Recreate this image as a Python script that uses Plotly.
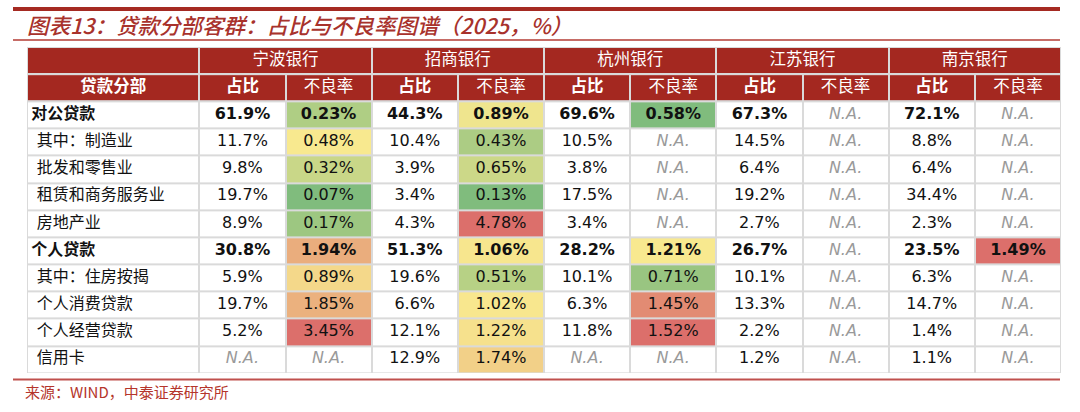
import plotly.graph_objects as go

W, H = 1080, 412

title_text = "图表13：贷款分部客群：占比与不良率图谱（2025，%）"
source_text = "来源：WIND，中泰证券研究所"

banks = ["宁波银行", "招商银行", "杭州银行", "江苏银行", "南京银行"]
row_header = "贷款分部"
sub_headers = ["占比", "不良率"]

categories = ["对公贷款", "其中：制造业", "批发和零售业", "租赁和商务服务业", "房地产业",
              "个人贷款", "其中：住房按揭", "个人消费贷款", "个人经营贷款", "信用卡"]
total_rows = ["对公贷款", "个人贷款"]

# 占比 (%), None = N.A.
share_ningbo = [61.9, 11.7, 9.8, 19.7, 8.9, 30.8, 5.9, 19.7, 5.2, None]
share_zhaoshang = [44.3, 10.4, 3.9, 3.4, 4.3, 51.3, 19.6, 6.6, 12.1, 12.9]
share_hangzhou = [69.6, 10.5, 3.8, 17.5, 3.4, 28.2, 10.1, 6.3, 11.8, None]
share_jiangsu = [67.3, 14.5, 6.4, 19.2, 2.7, 26.7, 10.1, 13.3, 2.2, 1.2]
share_nanjing = [72.1, 8.8, 6.4, 34.4, 2.3, 23.5, 6.3, 14.7, 1.4, 1.1]

# 不良率 (%)
npl_ningbo = [0.23, 0.48, 0.32, 0.07, 0.17, 1.94, 0.89, 1.85, 3.45, None]
npl_zhaoshang = [0.89, 0.43, 0.65, 0.13, 4.78, 1.06, 0.51, 1.02, 1.22, 1.74]
npl_hangzhou = [0.58, None, None, None, None, 1.21, 0.71, 1.45, 1.52, None]
npl_jiangsu = [None] * 10
npl_nanjing = [None, None, None, None, None, 1.49, None, None, None, None]

shares = [share_ningbo, share_zhaoshang, share_hangzhou, share_jiangsu, share_nanjing]
npls = [npl_ningbo, npl_zhaoshang, npl_hangzhou, npl_jiangsu, npl_nanjing]

RED = "#a42820"
GRID = "#dadada"
CJK = "Noto Sans CJK SC"
NUM = "DejaVu Sans"
# z < 0 -> white cell; 0..1 -> green / yellow (column median) / red
BODY_SCALE = [[0.0, "#ffffff"], [0.4999, "#ffffff"],
              [0.5, "#80bc7d"], [0.75, "#f8e98f"], [1.0, "#dc6f6b"]]

# table geometry in "column units" / "row units"
col_edges = [0, 2] + [2 + i for i in range(1, 2 * len(banks) + 1)]
bank_edges = [0] + [2 + 2 * i for i in range(len(banks) + 1)]
n_rows = len(categories) + 2
row_edges = list(range(n_rows + 1))


def px_x(v):
    return v / W


def px_y(v):
    return 1 - v / H


def heat_pos(vals):
    # 3-colour conditional format per column: min green, median yellow, max red
    nums = sorted(v for v in vals if v is not None)
    if not nums:
        return [-1] * len(vals)
    lo, hi = nums[0], nums[-1]
    n = len(nums)
    med = nums[n // 2] if n % 2 else (nums[n // 2 - 1] + nums[n // 2]) / 2
    out = []
    for v in vals:
        if v is None:
            out.append(-1)
        elif n == 1:
            out.append(1.0)
        elif v <= med:
            out.append(0.5 * (v - lo) / (med - lo) if med > lo else 0.5)
        else:
            out.append(0.5 + 0.5 * (v - med) / (hi - med))
    return out


# body fill matrix (rows x columns)
columns_z = [[-1] * len(categories)]
for n in npls:
    columns_z += [[-1] * len(categories), heat_pos(n)]
z_body = [[col[r] for col in columns_z] for r in range(len(categories))]

fig = go.Figure()

# merged bank-name header row
fig.add_trace(go.Heatmap(
    x=bank_edges, y=row_edges[0:2], z=[[0] * (len(banks) + 1)],
    colorscale=[[0, RED], [1, RED]], showscale=False, xgap=2, ygap=2,
    hoverinfo="skip",
))
# sub-header row
fig.add_trace(go.Heatmap(
    x=col_edges, y=row_edges[1:3], z=[[0] * (2 * len(banks) + 1)],
    colorscale=[[0, RED], [1, RED]], showscale=False, xgap=2, ygap=2,
    hoverinfo="skip",
))
# body
fig.add_trace(go.Heatmap(
    x=col_edges, y=row_edges[2:], z=z_body,
    colorscale=BODY_SCALE, zmin=-1, zmax=1, showscale=False, xgap=2, ygap=2,
    hoverinfo="skip",
))

centers = [(a + b) / 2 for a, b in zip(col_edges[:-1], col_edges[1:])]
bank_centers = [(a + b) / 2 for a, b in zip(bank_edges[1:-1], bank_edges[2:])]

# header texts
fig.add_trace(go.Scatter(
    x=bank_centers, y=[0.5] * len(banks), text=banks, mode="text",
    textfont=dict(family=CJK, size=16.5, color="white"), hoverinfo="skip",
))
hdr_text = [f"<b>{row_header}</b>"] + [f"<b>{sub_headers[0]}</b>", sub_headers[1]] * len(banks)
fig.add_trace(go.Scatter(
    x=centers, y=[1.5] * len(centers), text=hdr_text, mode="text",
    textfont=dict(family=CJK, size=16.5, color="white"), hoverinfo="skip",
))

# row labels (left aligned)
labels = [f"<b>{c}</b>" if c in total_rows else "\u2004" + c for c in categories]
fig.add_trace(go.Scatter(
    x=[0.05] * len(categories), y=[r + 2.5 for r in range(len(categories))],
    text=labels, mode="text", textposition="middle right",
    textfont=dict(family=CJK, size=16, color="#111111"), hoverinfo="skip",
))

# numbers
xs, ys, txt, colors = [], [], [], []
for b, (s, n) in enumerate(zip(shares, npls)):
    for k, (vals, digits) in enumerate([(s, 1), (n, 2)]):
        for r, (cat, v) in enumerate(zip(categories, vals)):
            xs.append(centers[1 + 2 * b + k])
            ys.append(r + 2.5)
            if v is None:
                txt.append("<i>N.A.</i>")
                colors.append("#9a9a9a")
            else:
                t = f"{v:.{digits}f}%"
                txt.append(f"<b>{t}</b>" if cat in total_rows else t)
                colors.append("#111111")
fig.add_trace(go.Scatter(
    x=xs, y=ys, text=txt, mode="text",
    textfont=dict(family=NUM, size=16, color=colors), hoverinfo="skip",
))

fig.add_shape(type="line", xref="paper", yref="paper",
              x0=px_x(13), x1=px_x(1060), y0=px_y(9), y1=px_y(9),
              line=dict(color="#a52a22", width=4))
fig.add_shape(type="line", xref="paper", yref="paper",
              x0=px_x(13), x1=px_x(1060), y0=px_y(40), y1=px_y(40),
              line=dict(color="#b33b33", width=1.5))
fig.add_shape(type="line", xref="paper", yref="paper",
              x0=px_x(13), x1=px_x(1060), y0=px_y(379.5), y1=px_y(379.5),
              line=dict(color="#c0504d", width=2))

fig.add_annotation(text=f"<i>{title_text}</i>", xref="paper", yref="paper",
                   x=px_x(25), y=px_y(25), xanchor="left", yanchor="middle",
                   showarrow=False,
                   font=dict(family=CJK, size=21.5, color="#a8322c", weight=500))
fig.add_annotation(text=source_text, xref="paper", yref="paper",
                   x=px_x(23), y=px_y(391), xanchor="left", yanchor="middle",
                   showarrow=False,
                   font=dict(family=CJK, size=15, color="#b5352b"))

fig.update_layout(
    width=W, height=H,
    margin=dict(l=0, r=0, t=0, b=0),
    paper_bgcolor="white",
    plot_bgcolor=GRID,
    showlegend=False,
    xaxis=dict(domain=[px_x(27), px_x(1061)], range=[0, col_edges[-1]],
               visible=False, fixedrange=True),
    yaxis=dict(domain=[px_y(373), px_y(47)], range=[n_rows, 0],
               visible=False, fixedrange=True),
)

fig.write_html("out.html", config={"displayModeBar": False},
               post_script="document.body.style.margin='0';")
